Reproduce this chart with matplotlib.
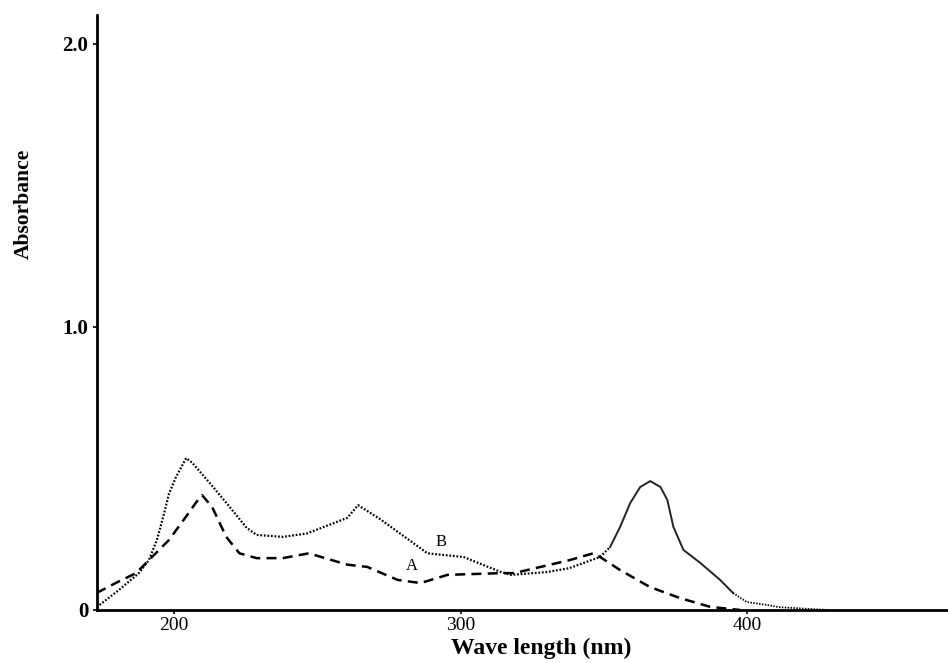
import numpy as np
import matplotlib.pyplot as plt

# curve A (dashed)
wl_a = [173, 179.6, 186.7, 192.3, 198.2, 204.2, 207.7, 209.8, 213.3, 218.2, 222.8,
        228.8, 237.9, 247, 260.4, 267.4, 278, 286, 295.4, 314, 318.6, 338, 346.2,
        348.6, 355.6, 366, 376.5, 387, 397.5]
abs_a = [0.06, 0.095, 0.13, 0.187, 0.247, 0.33, 0.38, 0.405, 0.363, 0.258, 0.20,
         0.183, 0.183, 0.20, 0.16, 0.152, 0.106, 0.095, 0.124, 0.13, 0.13, 0.176, 0.20,
         0.187, 0.141, 0.081, 0.042, 0.011, 0.0]

# curve B (dotted, solid around the 365 nm band)
wl_b = [173, 180.7, 187.7, 191.2, 194, 196.5, 198.2, 200.7, 204.2, 206.3, 212.3,
        219.3, 225.3, 228.8, 237.9, 246.3, 260.4, 264.2, 272, 288.4, 301, 314, 317.6,
        330.3, 338, 348.6, 352.1, 355.6, 359.1, 362.6, 366.1, 369.7, 372.1, 374.2,
        377.7, 383.6, 390.5, 395, 399.8, 406.7, 411, 428]
abs_b = [0.01, 0.07, 0.13, 0.176, 0.247, 0.34, 0.41, 0.47, 0.536, 0.52, 0.45,
         0.365, 0.29, 0.265, 0.258, 0.27, 0.325, 0.37, 0.32, 0.20, 0.187, 0.134, 0.124,
         0.134, 0.148, 0.187, 0.222, 0.293, 0.377, 0.434, 0.455, 0.434, 0.388, 0.293,
         0.212, 0.166, 0.106, 0.06, 0.028, 0.018, 0.01, 0.0]

x_ticks = [200, 300, 400]
y_ticks = [0, 1.0, 2.0]
y_ticklabels = ["0", "1.0", "2.0"]

serif = ["Liberation Serif", "DejaVu Serif"]

fig = plt.figure(figsize=(9.48, 6.63), dpi=100)
ax = fig.add_axes([0.102, 0.080, 0.898, 0.897])

ax.plot(wl_a, abs_a, color="black", lw=1.8, linestyle=(0, (4, 2.5)))

wl_b = np.array(wl_b)
abs_b = np.array(abs_b)
m1 = wl_b <= 352.1
m2 = (wl_b >= 352.1) & (wl_b <= 395)
m3 = wl_b >= 395
ax.plot(wl_b[m1], abs_b[m1], color="black", lw=1.6, linestyle=(0, (0.8, 0.8)))
ax.plot(wl_b[m2], abs_b[m2], color="#222222", lw=1.4)
ax.plot(wl_b[m3], abs_b[m3], color="black", lw=1.3, linestyle=(0, (0.8, 0.8)))

ax.text(293, 0.24, "B", fontsize=12, family=serif, ha="center", va="center")
ax.text(283, 0.155, "A", fontsize=12, family=serif, ha="center", va="center")

ax.set_xlim(173, 470)
ax.set_ylim(0, 2.1)
for s in ["top", "right"]:
    ax.spines[s].set_visible(False)
for s in ["left", "bottom"]:
    ax.spines[s].set_linewidth(2)

ax.set_xticks(x_ticks)
ax.set_xticklabels([str(t) for t in x_ticks], family=serif, fontsize=14)
ax.set_yticks(y_ticks)
ax.set_yticklabels(y_ticklabels, family=serif, fontsize=15, fontweight="bold")
ax.tick_params(axis="both", length=3, width=1.2, pad=3)
ax.tick_params(axis="x", pad=2)

ax.set_xlabel("Wave length (nm)", family=serif, fontsize=17, fontweight="bold")
ax.xaxis.set_label_coords(0.522, -0.046)
ax.set_ylabel("Absorbance", family=serif, fontsize=15.5, fontweight="bold")
ax.yaxis.set_label_coords(-0.074, 0.682)

fig.savefig("out.png", dpi=100)
